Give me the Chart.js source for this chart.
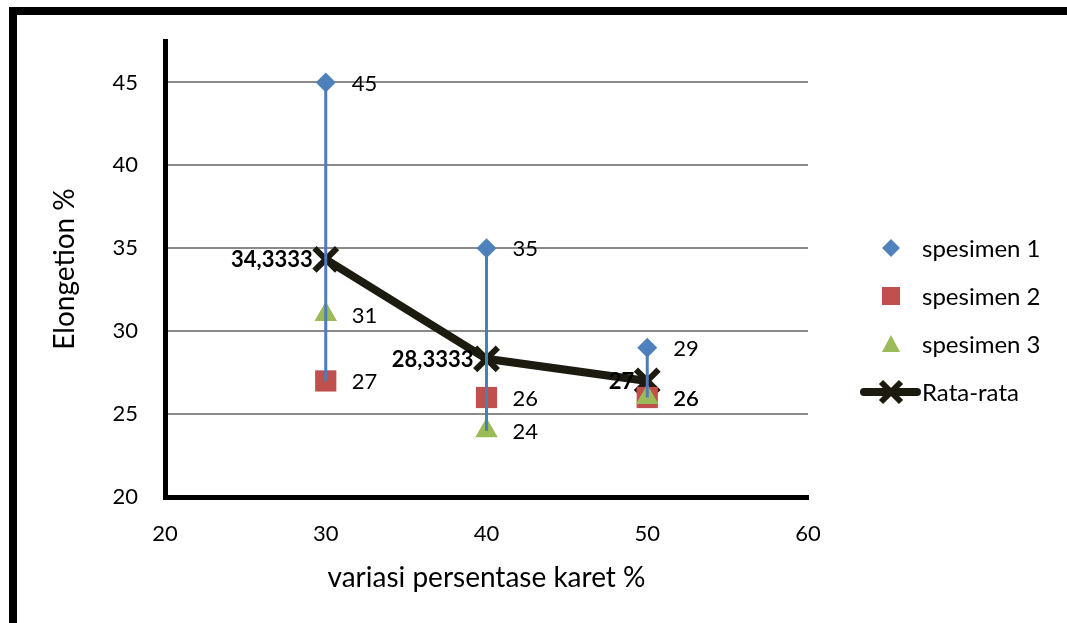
<!DOCTYPE html>
<html>
<head>
<meta charset="utf-8">
<script src="https://cdn.jsdelivr.net/npm/chart.js@4"></script>
<style>
  html, body { margin: 0; padding: 0; background: #fff; }
  #wrap { width: 1067px; height: 623px; }
</style>
</head>
<body>
<div id="wrap"><canvas id="chart"></canvas></div>
<script>
// data
const xValues = [30, 40, 50];
const spesimen1 = [45, 35, 29];
const spesimen2 = [27, 26, 26];
const spesimen3 = [31, 24, 26];
const rataRata = [34.3333, 28.3333, 27];
const seriesNames = ['spesimen 1', 'spesimen 2', 'spesimen 3', 'Rata-rata'];
const xTitle = 'variasi persentase karet %';
const yTitle = 'Elongetion %';

const FONT = 'Lato, "Open Sans", sans-serif';
Chart.defaults.font.family = FONT;
Chart.defaults.color = '#000';

const toPoints = ys => xValues.map((x, i) => ({ x: x, y: ys[i] }));

// vertical blue lines from highest to lowest specimen at each x
const rangeSets = xValues.map((x, i) => {
  const vals = [spesimen1[i], spesimen2[i], spesimen3[i]];
  return {
    label: 'range',
    data: [{ x: x, y: Math.max(...vals) }, { x: x, y: Math.min(...vals) }],
    showLine: true,
    borderColor: '#4a7ebb',
    borderWidth: 3,
    pointRadius: 0,
    order: 0
  };
});

const datasets = [
  {
    label: seriesNames[0], data: toPoints(spesimen1),
    pointStyle: 'rectRot', pointRadius: 10, backgroundColor: '#4f81bd', borderColor: '#4f81bd',
    pointBorderWidth: 0, order: 3, labelSide: 'right', legend: true
  },
  {
    label: seriesNames[1], data: toPoints(spesimen2),
    pointStyle: 'rect', pointRadius: 15, backgroundColor: '#c0504d', borderColor: '#c0504d',
    pointBorderWidth: 0, order: 2, labelSide: 'right', legend: true
  },
  {
    label: seriesNames[2], data: toPoints(spesimen3),
    pointStyle: 'triangle', pointRadius: 13, backgroundColor: '#9bbb59', borderColor: '#9bbb59',
    pointBorderWidth: 0, order: 1, labelSide: 'right', legend: true
  },
  {
    label: seriesNames[3], data: toPoints(rataRata),
    showLine: true, borderColor: '#1d1b10', borderWidth: 8,
    pointStyle: 'crossRot', pointRadius: 16, pointBorderWidth: 6,
    pointBorderColor: '#1d1b10', backgroundColor: '#1d1b10',
    order: 4, labelSide: 'left', labelBold: true, legend: true
  },
  ...rangeSets
];

const framePlugin = {
  id: 'frame',
  beforeDraw(chart) {
    const ctx = chart.ctx;
    ctx.save();
    ctx.fillStyle = '#fff';
    ctx.fillRect(0, 0, chart.width, chart.height);
    ctx.strokeStyle = '#000';
    ctx.lineWidth = 8;
    ctx.strokeRect(13, 11, chart.width + 20, chart.height + 20);
    ctx.restore();
  }
};

const labelPlugin = {
  id: 'pointLabels',
  afterDraw(chart) {
    const ctx = chart.ctx;
    chart.data.datasets.forEach((ds, i) => {
      if (!ds.labelSide) return;
      const meta = chart.getDatasetMeta(i);
      ctx.save();
      ctx.font = (ds.labelBold ? 'bold ' : '') + '22px ' + FONT;
      ctx.fillStyle = '#000';
      ctx.textBaseline = 'middle';
      meta.data.forEach((pt, j) => {
        const text = String(ds.data[j].y).replace('.', ',');
        if (ds.labelSide === 'right') {
          ctx.textAlign = 'left';
          ctx.fillText(text, pt.x + 26, pt.y + 1);
        } else {
          ctx.textAlign = 'right';
          ctx.fillText(text, pt.x - 13, pt.y + 1);
        }
      });
      ctx.restore();
    });
  }
};

const legendPlugin = {
  id: 'sideLegend',
  afterDraw(chart) {
    const ctx = chart.ctx;
    const items = chart.data.datasets.filter(d => d.legend);
    const mx = 891, tx = 922, y0 = 248, step = 48;
    ctx.save();
    items.forEach((ds, i) => {
      const y = y0 + i * step;
      const c = ds.backgroundColor;
      ctx.fillStyle = c;
      ctx.strokeStyle = c;
      ctx.beginPath();
      if (ds.pointStyle === 'rectRot') {
        ctx.moveTo(mx, y - 9); ctx.lineTo(mx + 9, y); ctx.lineTo(mx, y + 9); ctx.lineTo(mx - 9, y);
        ctx.closePath(); ctx.fill();
      } else if (ds.pointStyle === 'rect') {
        ctx.fillRect(mx - 9, y - 9, 18, 18);
      } else if (ds.pointStyle === 'triangle') {
        ctx.moveTo(mx, y - 9); ctx.lineTo(mx + 9, y + 8); ctx.lineTo(mx - 9, y + 8);
        ctx.closePath(); ctx.fill();
      } else {
        ctx.lineWidth = ds.borderWidth;
        ctx.lineCap = 'round';
        ctx.moveTo(mx - 27, y); ctx.lineTo(mx + 26, y); ctx.stroke();
        ctx.beginPath();
        ctx.lineWidth = 6;
        ctx.lineCap = 'butt';
        ctx.moveTo(mx - 10, y - 10); ctx.lineTo(mx + 10, y + 10);
        ctx.moveTo(mx + 10, y - 10); ctx.lineTo(mx - 10, y + 10);
        ctx.stroke();
      }
      ctx.fillStyle = '#000';
      ctx.font = '24px ' + FONT;
      ctx.textAlign = 'left';
      ctx.textBaseline = 'middle';
      ctx.fillText(ds.label, tx, y + 1);
    });
    ctx.restore();
  }
};

new Chart(document.getElementById('chart').getContext('2d'), {
  type: 'scatter',
  data: { datasets: datasets },
  plugins: [framePlugin, labelPlugin, legendPlugin],
  options: {
    responsive: true,
    maintainAspectRatio: false,
    animation: false,
    layout: { padding: { top: 41, right: 259, bottom: 0, left: 0 } },
    plugins: { legend: { display: false }, tooltip: { enabled: false } },
    scales: {
      x: {
        type: 'linear', min: 20, max: 60,
        ticks: { stepSize: 10, padding: 24, font: { size: 22 }, color: '#000' },
        grid: { display: false, drawTicks: false },
        border: { display: true, color: '#000', width: 5 },
        title: { display: true, text: xTitle, font: { size: 28 }, color: '#000', padding: { top: 0, bottom: 28 } },
        afterFit: s => { s.height = 126; }
      },
      y: {
        type: 'linear', min: 20, max: 47.5,
        ticks: { stepSize: 5, includeBounds: false, padding: 27, font: { size: 22 }, color: '#000' },
        afterBuildTicks: s => { s.ticks = s.ticks.filter(t => t.value <= 45); },
        grid: { color: '#8a8a8a', lineWidth: 2, drawTicks: false },
        border: { display: true, color: '#000', width: 5 },
        title: { display: true, text: yTitle, font: { size: 28 }, color: '#000', padding: { top: 48, bottom: 0 } },
        afterFit: s => { s.width = 165; }
      }
    }
  }
});
</script>
</body>
</html>
